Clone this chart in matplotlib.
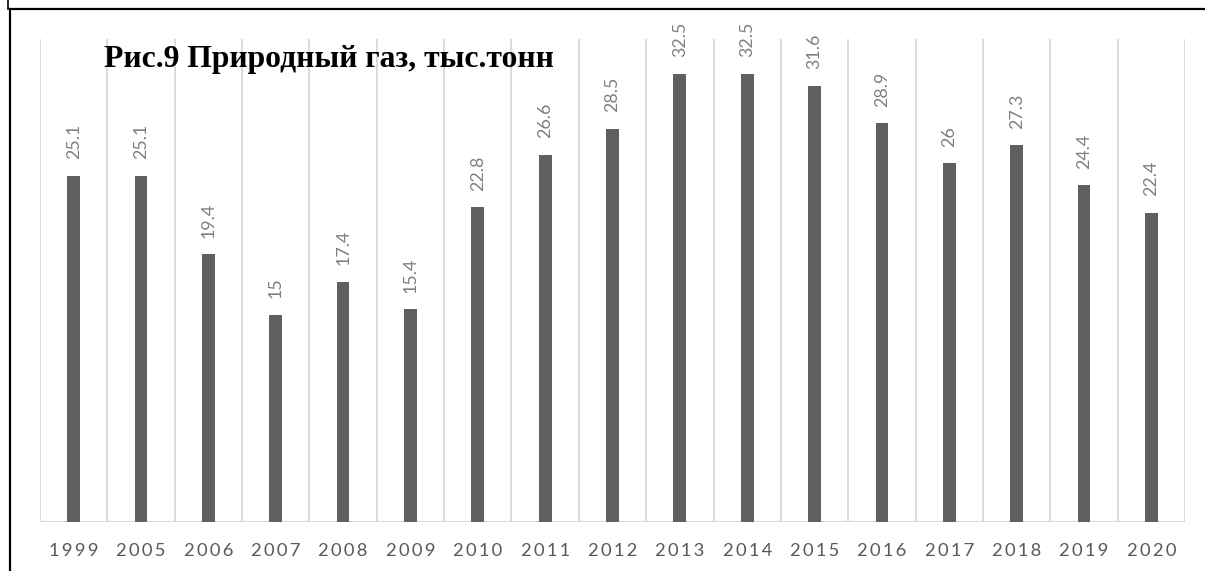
import matplotlib
matplotlib.use("Agg")
import matplotlib.pyplot as plt
from matplotlib.lines import Line2D

years = ["1999", "2005", "2006", "2007", "2008", "2009", "2010", "2011", "2012",
         "2013", "2014", "2015", "2016", "2017", "2018", "2019", "2020"]
values = [25.1, 25.1, 19.4, 15, 17.4, 15.4, 22.8, 26.6, 28.5,
          32.5, 32.5, 31.6, 28.9, 26, 27.3, 24.4, 22.4]
title = "Рис.9 Природный газ, тыс.тонн"

W, H = 1205, 571
fig = plt.figure(figsize=(W / 100, H / 100), dpi=100)
ax = fig.add_axes([40 / W, 1 - 522 / H, (1185 - 40) / W, (522 - 39) / H])

x = list(range(len(years)))
ax.bar(x, values, width=0.19, color="#5f5f5f", zorder=3)
ax.set_xlim(-0.5, len(years) - 0.5)
ax.set_ylim(0, 35)

# vertical gridlines at category boundaries
for b in range(len(years) + 1):
    ax.axvline(b - 0.5, color="#d9d9d9", lw=1.3, zorder=1)
ax.axhline(0, color="#d9d9d9", lw=1.5, zorder=2)

for s in ax.spines.values():
    s.set_visible(False)
ax.set_yticks([])
ax.set_xticks(x)
ax.set_xticklabels(["\u2009".join(y) for y in years], family=["Lato", "DejaVu Sans"],
                   fontsize=13.2, color="#595959")
ax.tick_params(axis="x", length=0, pad=15)

for xi, v in zip(x, values):
    lab = f"{v:g}"
    ax.annotate(lab, (xi, v), xytext=(0, 12), textcoords="offset points",
                rotation=90, ha="center", va="bottom", fontsize=12.8,
                family="Lato", color="#7f7f7f", annotation_clip=False)

fig.text(104 / W, 1 - 60 / H, title, family="Liberation Serif", fontweight="bold",
         fontsize=22.8, va="center", ha="left")

# border lines
fig.add_artist(Line2D([10 / W, 1.0], [1 - 9 / H, 1 - 9 / H], color="black", lw=1.6,
                      transform=fig.transFigure))
fig.add_artist(Line2D([10 / W, 10 / W], [1 - 9 / H, 0], color="black", lw=1.6,
                      transform=fig.transFigure))
fig.add_artist(Line2D([8 / W, 8 / W], [1.0, 1 - 9 / H], color="black", lw=1.2,
                      transform=fig.transFigure))

fig.savefig("out.png", dpi=100)
